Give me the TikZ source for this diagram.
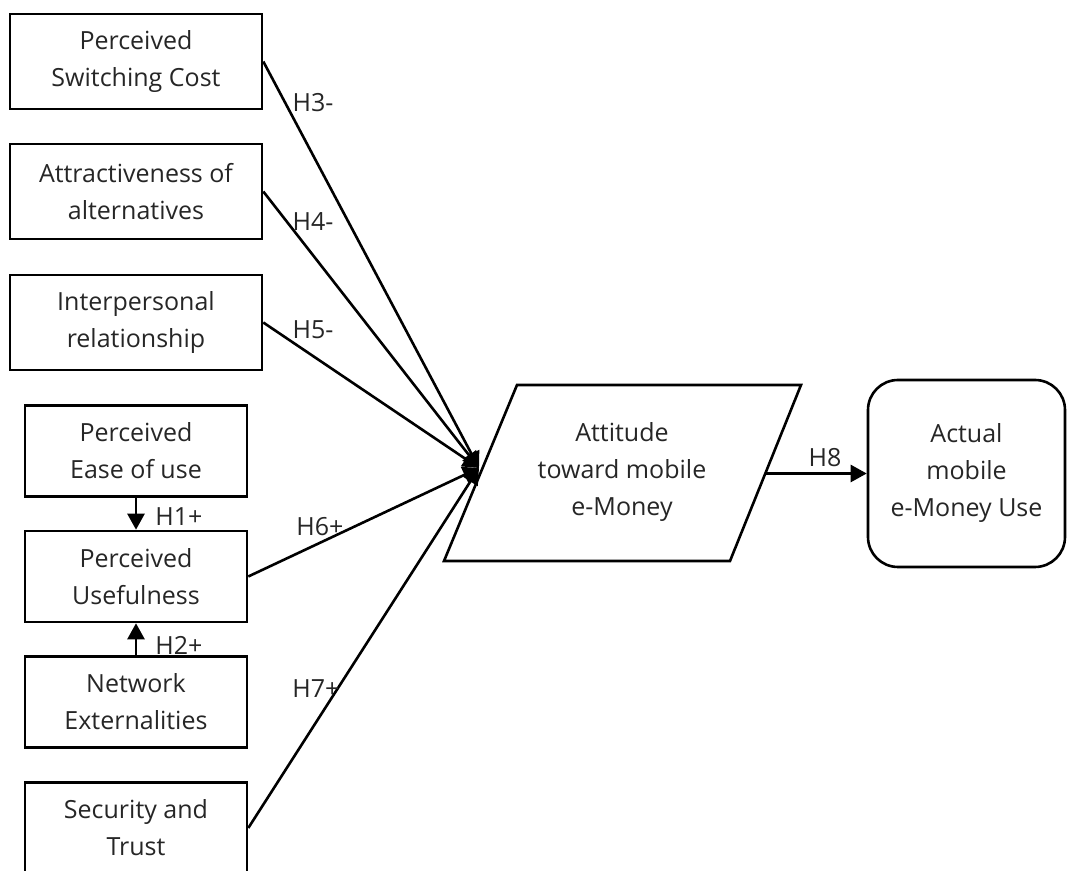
\documentclass[tikz,border=0pt]{standalone}
\usepackage{fontspec}
\setmainfont{Open Sans}
\usepackage{tikz}
\usetikzlibrary{arrows.meta}

\begin{document}
\begin{tikzpicture}%
  [x=0.5pt,y=-0.5pt,line width=1.3pt,
   every node/.style={font=\fontsize{12.5pt}{18.5pt}\selectfont,text=black!85,align=center},
   hyp/.style={-{Triangle[length=8pt,width=8.5pt]}}]
  \tikzstyle{wide box}=[rectangle,draw,line width=1.3pt,minimum width=126pt,minimum height=47.5pt,inner sep=0]
  \tikzstyle{small box}=[rectangle,draw,line width=1.3pt,minimum width=111pt,minimum height=45.5pt,inner sep=0]
  \tikzstyle{use box}=[rectangle,draw,rounded corners=15pt,line width=1.3pt,minimum width=98.5pt,minimum height=93.5pt,inner sep=0]
  \useasboundingbox (0,0) rectangle (1067,871);
  % left column
  \node(cost)[wide box] at (136,61.5){Perceived\\Switching Cost};
  \node(alt)[wide box] at (136,191.5){Attractiveness of\\alternatives};
  \node(rel)[wide box] at (136,322.5){Interpersonal\\relationship};
  \node(ease)[small box] at (136,451){Perceived\\Ease of use};
  \node(useful)[small box] at (136,576.5){Perceived\\Usefulness};
  \node(net)[small box] at (136,702){Network\\Externalities};
  \node(trust)[small box] at (136,828){Security and\\Trust};
  % attitude
  \coordinate(p1) at (517,385);
  \coordinate(p2) at (801,385);
  \coordinate(p3) at (730,561);
  \coordinate(p4) at (444,561);
  \draw (p1) -- (p2) -- (p3) -- (p4) -- cycle;
  \node(att) at (622,472){Attitude\\toward mobile\\e-Money};
  \coordinate(tip) at (479,468);
  \coordinate(attout) at (765.5,473.5);
  \node(act)[use box] at (966.5,473.5){Actual\\mobile\\e-Money Use};
  % paths
  \draw[hyp] (ease) -- (useful);
  \draw[hyp] (net) -- (useful);
  \foreach \src in {cost,alt,rel,useful,trust}
    \draw[hyp] (\src.east) -- (tip);
  \draw[hyp] (attout) -- (act);
  % labels
  \node(h1) at (179,517){H1+};
  \node(h2) at (179,645){H2+};
  \node(h3) at (313,103){H3-};
  \node(h4) at (313,222){H4-};
  \node(h5) at (313,330){H5-};
  \node(h6) at (320,527){H6+};
  \node(h7) at (316,689){H7+};
  \node(h8) at (825,458){H8};
\end{tikzpicture}
\end{document}
